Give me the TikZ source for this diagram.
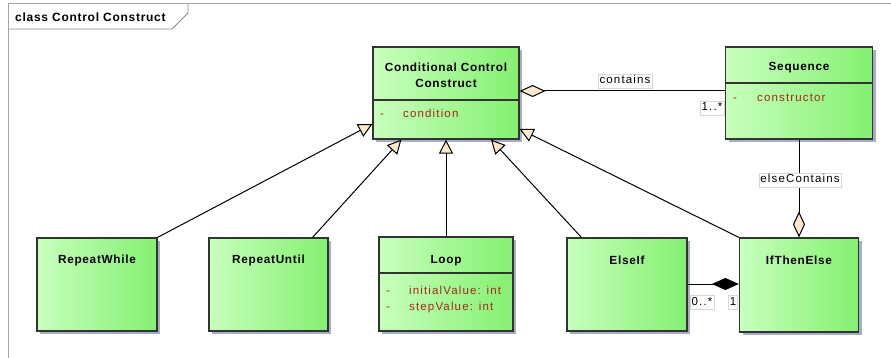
\documentclass[tikz,border=0pt]{standalone}
\usepackage{fontspec}
\setmainfont{Liberation Sans}
\newfontfamily\regf{Liberation Sans}[LetterSpace=10]
\newfontfamily\bldf{Liberation Sans}[LetterSpace=6]
\usetikzlibrary{arrows.meta,shadows}

\definecolor{lineC}{RGB}{51,51,51}
\definecolor{lightG}{RGB}{200,255,190}
\definecolor{deepG}{RGB}{132,240,112}
\definecolor{shadowC}{RGB}{168,172,196}
\definecolor{attrC}{RGB}{160,40,30}
\definecolor{beigeC}{RGB}{252,232,204}
\definecolor{frameC}{RGB}{165,165,165}
\definecolor{tagC}{RGB}{215,215,215}

\tikzset{
  umlclass/.style={draw=lineC, line width=1.2pt, inner sep=0pt,
    left color=lightG, right color=deepG,
    drop shadow={shadow xshift=3pt, shadow yshift=-3pt, fill=shadowC, opacity=1}},
  ctitle/.style={font=\fontsize{11.8}{16}\selectfont\bldf\bfseries, text=black, align=center, inner sep=0pt},
  attr/.style={font=\fontsize{11.5}{14}\selectfont\regf, text=attrC, anchor=west, inner sep=0pt,
    text height=8.4pt, text depth=2.4pt},
  tag/.style={font=\fontsize{11.5}{14}\selectfont\regf, fill=white, draw=tagC, line width=0.6pt, inner sep=1.5pt,
    text height=8.4pt, text depth=2.4pt},
  conn/.style={draw=black, line width=1pt},
  gen/.style={conn, -{Triangle[length=14pt,width=14pt,fill=beigeC]}},
  agg/.style={conn, -{Diamond[length=26pt,width=12pt,fill=beigeC]}},
  comp/.style={conn, -{Diamond[length=27pt,width=12pt,fill=black]}},
}

\begin{document}
\begin{tikzpicture}[x=1pt,y=-1pt]
\useasboundingbox (0,0) rectangle (891,358);

% diagram frame and name tab
\draw[frameC, line width=1pt] (891,4) -- (8,4) -- (8,358);
\draw[frameC!85!black, line width=0.8pt] (8,29) -- (172,29) -- (188,13) -- (188,4);
\node[font=\fontsize{12}{14}\selectfont\bldf\bfseries, anchor=west, inner sep=0pt] (frametitle) at (15,17) {class Control Construct};

% classes
\node[umlclass, minimum width=146pt, minimum height=92pt] (ccc) at (446,93) {};
\node[umlclass, minimum width=147pt, minimum height=92pt] (seq) at (799,93) {};
\node[umlclass, minimum width=120pt, minimum height=93pt] (rw) at (97,284.5) {};
\node[umlclass, minimum width=119pt, minimum height=93pt] (ru) at (268.5,284.5) {};
\node[umlclass, minimum width=134pt, minimum height=94pt] (loop) at (446,284) {};
\node[umlclass, minimum width=120pt, minimum height=93pt] (elif) at (627,284.5) {};
\node[umlclass, minimum width=119pt, minimum height=94pt] (ite) at (799,285) {};

% compartment separators
\draw[lineC, line width=1.2pt] (ccc.west |- 0,100) -- (ccc.east |- 0,100);
\draw[lineC, line width=1.2pt] (seq.west |- 0,83) -- (seq.east |- 0,83);
\draw[lineC, line width=1.2pt] (loop.west |- 0,273) -- (loop.east |- 0,273);

% class names
\node[ctitle] (ccct) at (446,75.5) {Conditional Control\\Construct};
\node[ctitle] (seqt) at (799,67.5) {Sequence};
\node[ctitle] (rwt) at (97,260.5) {RepeatWhile};
\node[ctitle] (rut) at (268.5,260.5) {RepeatUntil};
\node[ctitle] (loopt) at (446,260.5) {Loop};
\node[ctitle] (elift) at (627,260.5) {ElseIf};
\node[ctitle] (itet) at (799,260.5) {IfThenElse};

% attributes
\node[attr] (ccca1) at (380,114.5) {-};
\node[attr] (ccca2) at (403,114.5) {condition};
\node[attr] (seqa1) at (733,98.5) {-};
\node[attr] (seqa2) at (757,98.5) {constructor};
\node[attr] (loopa1) at (386,291.5) {-};
\node[attr] (loopa2) at (409,291.5) {initialValue: int};
\node[attr] (loopb1) at (386,307.5) {-};
\node[attr] (loopb2) at (409,307.5) {stepValue: int};

% generalizations
\draw[gen] (rw.north east) -- (ccc.west |- 0,124);
\draw[gen] ([xshift=-16pt]ru.north east) -- ([xshift=29pt]ccc.south west);
\draw[gen] (loop.north) -- (ccc.south);
\draw[gen] ([xshift=15pt]elif.north west) -- ([xshift=45pt]ccc.south);
\draw[gen] (ite.north west) -- (ccc.east |- 0,129);

% associations
\draw[agg] (seq.west |- 0,91) -- (ccc.east |- 0,91);
\draw[agg] (seq.south) -- (ite.north);
\draw[comp] (elif.east |- 0,284) -- (ite.west |- 0,284);

% association labels and multiplicities
\node[tag] (lcontains) at (625,81) {contains};
\node[tag] (mseq) at (712,108) {1..*};
\node[tag] (lelse) at (800,180) {elseContains};
\node[tag] (melif) at (702,302) {0..*};
\node[tag] (mite) at (733,302) {1};
\end{tikzpicture}
\end{document}
